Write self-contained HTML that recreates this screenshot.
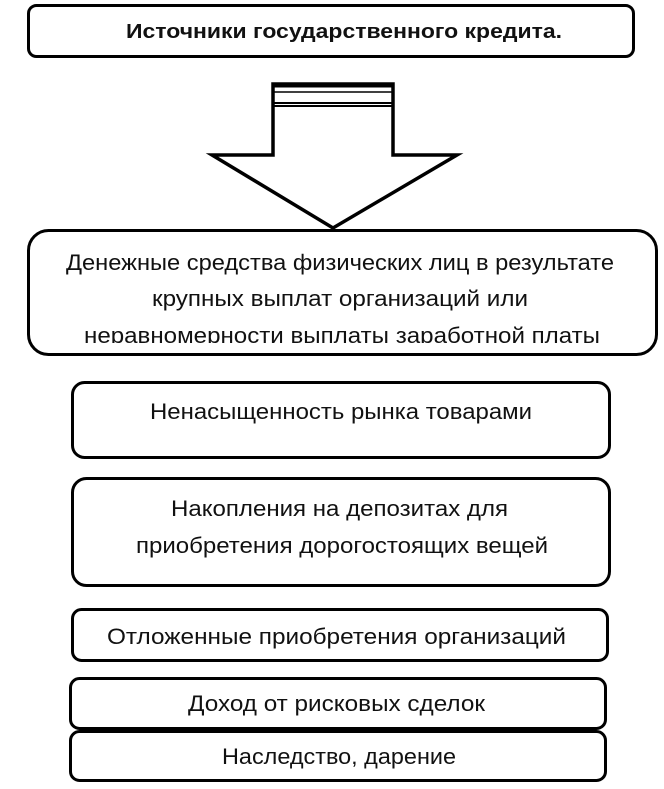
<!DOCTYPE html>
<html><head><meta charset="utf-8"><style>html,body{margin:0;padding:0;background:#fff}svg{display:block}</style></head>
<body>
<svg width="664" height="789" viewBox="0 0 664 789" xmlns="http://www.w3.org/2000/svg" font-family="Liberation Sans, sans-serif" fill="none" stroke="#000" stroke-width="3">
<defs><clipPath id="c"><rect x="0" y="0" width="664" height="343"/></clipPath></defs>
<rect x="28.5" y="5.5" width="605" height="51" rx="8"/>
<path d="M273,84 H393 V155 H457 L333,228 L212,155 H273 Z" stroke-width="3.5"/>
<line x1="273" y1="86" x2="393" y2="86" stroke-width="3"/>
<line x1="273" y1="92" x2="393" y2="92" stroke-width="1.5"/>
<line x1="273" y1="103" x2="393" y2="103" stroke-width="2"/>
<line x1="273" y1="106" x2="393" y2="106" stroke-width="2"/>
<rect x="28.5" y="230.5" width="628" height="124" rx="20"/>
<rect x="72.5" y="382.5" width="537" height="75" rx="12"/>
<rect x="72.5" y="478.5" width="537" height="107" rx="14"/>
<rect x="72.5" y="609.5" width="535" height="51" rx="9"/>
<rect x="70.5" y="678.5" width="535" height="50" rx="9"/>
<rect x="70.5" y="731.5" width="535" height="49" rx="9"/>
<g fill="#111" stroke="none" font-size="22">
<text x="126" y="38" font-weight="bold" font-size="20" textLength="436" lengthAdjust="spacingAndGlyphs">Источники государственного кредита.</text>
<text x="66" y="270" textLength="548" lengthAdjust="spacingAndGlyphs">Денежные средства физических лиц в результате</text>
<text x="152" y="306" textLength="376" lengthAdjust="spacingAndGlyphs">крупных выплат организаций или</text>
<text x="84" y="343" textLength="516" lengthAdjust="spacingAndGlyphs" clip-path="url(#c)">неравномерности выплаты заработной платы</text>
<text x="150" y="419" textLength="382" lengthAdjust="spacingAndGlyphs">Ненасыщенность рынка товарами</text>
<text x="171" y="516" textLength="337" lengthAdjust="spacingAndGlyphs">Накопления на депозитах для</text>
<text x="136" y="553" textLength="412" lengthAdjust="spacingAndGlyphs">приобретения дорогостоящих вещей</text>
<text x="107" y="644" textLength="459" lengthAdjust="spacingAndGlyphs">Отложенные приобретения организаций</text>
<text x="188" y="711" textLength="297" lengthAdjust="spacingAndGlyphs">Доход от рисковых сделок</text>
<text x="222" y="764" textLength="234" lengthAdjust="spacingAndGlyphs">Наследство, дарение</text>
</g>
</svg>
</body></html>
